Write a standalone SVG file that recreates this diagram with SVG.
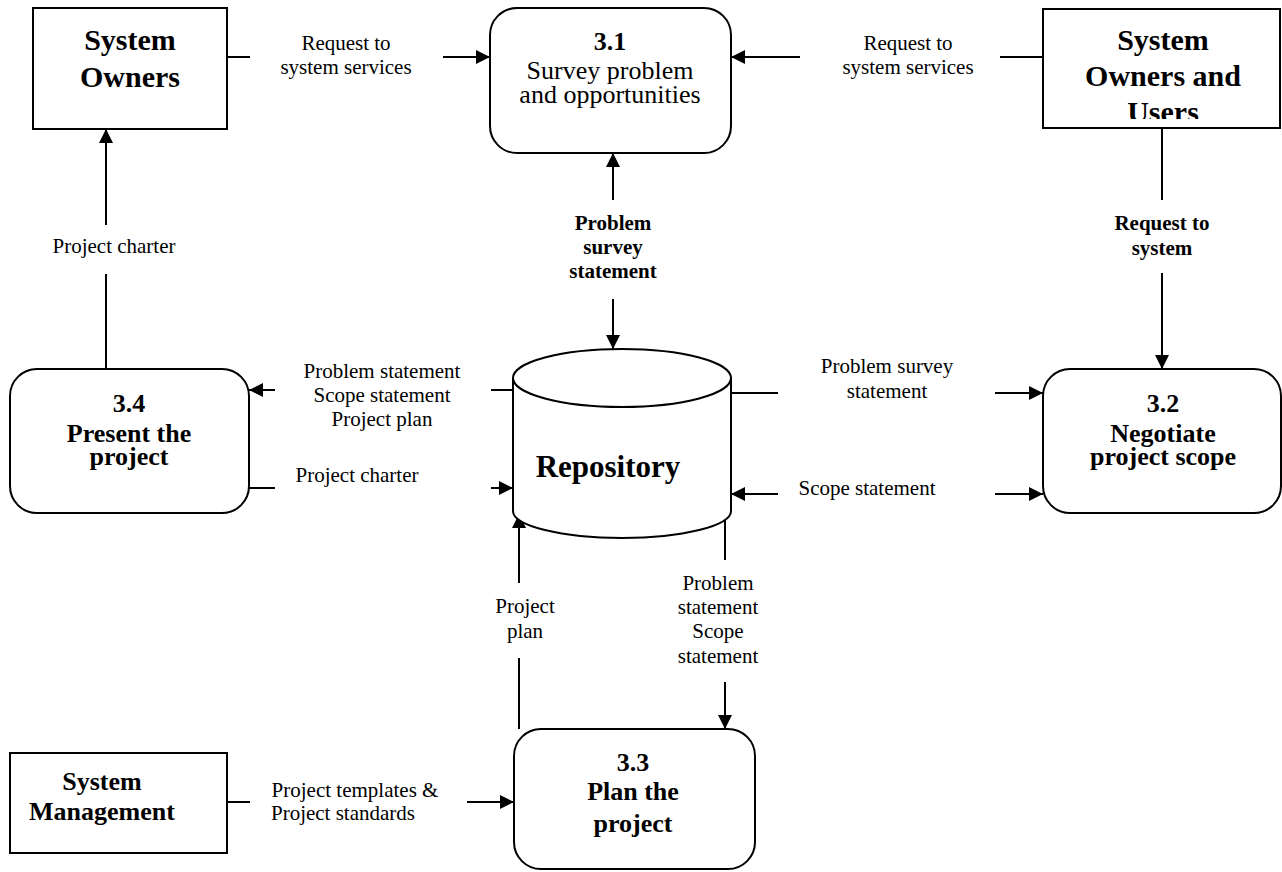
<svg xmlns="http://www.w3.org/2000/svg" width="1282" height="872" viewBox="0 0 1282 872">
  <style>
    .box { fill: #fff; stroke: #000; stroke-width: 2; }
    .line { fill: none; stroke: #000; stroke-width: 2; }
    .arrow { fill: none; stroke: #000; stroke-width: 2; marker-end: url(#head); }
    text { font-family: "Liberation Serif", "Times New Roman", serif; fill: #000; text-anchor: middle; }
    .lbl { font-size: 21px; }
    .lblb { font-size: 21px; font-weight: bold; }
    .ent { font-size: 30px; font-weight: bold; }
    .proc { font-size: 26px; }
    .procb { font-size: 26px; font-weight: bold; }
    .store { font-size: 31px; font-weight: bold; }
  </style>
  <defs>
    <marker id="head" markerUnits="userSpaceOnUse" markerWidth="16" markerHeight="16" refX="14" refY="7" orient="auto">
      <path d="M0,0 L14,7 L0,14 z" fill="#000"/>
    </marker>
    <clipPath id="souClip">
      <rect x="1043" y="9" width="238" height="110"/>
    </clipPath>
  </defs>

  <rect width="1282" height="872" fill="#fff"/>

  <!-- data flows -->
  <g id="connectors">
    <!-- System Owners -> 3.1 -->
    <line class="line" x1="227" y1="57" x2="250" y2="57"/>
    <line class="arrow" x1="443" y1="57" x2="490" y2="57"/>
    <text class="lbl" x="346" y="50">Request to</text>
    <text class="lbl" x="346" y="74">system services</text>

    <!-- System Owners and Users -> 3.1 -->
    <line class="line" x1="1043" y1="57" x2="1000" y2="57"/>
    <line class="arrow" x1="800" y1="57" x2="731" y2="57"/>
    <text class="lbl" x="908" y="50">Request to</text>
    <text class="lbl" x="908" y="74">system services</text>

    <!-- 3.1 <-> Repository -->
    <line class="arrow" x1="613" y1="200" x2="613" y2="153"/>
    <line class="arrow" x1="613" y1="299" x2="613" y2="349"/>
    <text class="lblb" x="613" y="230">Problem</text>
    <text class="lblb" x="613" y="254">survey</text>
    <text class="lblb" x="613" y="278">statement</text>

    <!-- System Owners and Users -> 3.2 -->
    <line class="line" x1="1162" y1="128" x2="1162" y2="200"/>
    <line class="arrow" x1="1162" y1="273" x2="1162" y2="369"/>
    <text class="lblb" x="1162" y="230">Request to</text>
    <text class="lblb" x="1162" y="255">system</text>

    <!-- 3.4 -> System Owners -->
    <line class="line" x1="106" y1="369" x2="106" y2="274"/>
    <line class="arrow" x1="106" y1="225" x2="106" y2="129"/>
    <text class="lbl" x="114" y="253">Project charter</text>

    <!-- Repository -> 3.4 -->
    <line class="line" x1="513" y1="390" x2="491" y2="390"/>
    <line class="arrow" x1="275" y1="390" x2="249" y2="390"/>
    <text class="lbl" x="382" y="378">Problem statement</text>
    <text class="lbl" x="382" y="402">Scope statement</text>
    <text class="lbl" x="382" y="426">Project plan</text>

    <!-- 3.4 -> Repository -->
    <line class="line" x1="249" y1="488" x2="275" y2="488"/>
    <line class="arrow" x1="491" y1="488" x2="513" y2="488"/>
    <text class="lbl" x="357" y="482">Project charter</text>

    <!-- Repository -> 3.2 -->
    <line class="line" x1="731" y1="393" x2="778" y2="393"/>
    <line class="arrow" x1="995" y1="393" x2="1043" y2="393"/>
    <text class="lbl" x="887" y="373">Problem survey</text>
    <text class="lbl" x="887" y="398">statement</text>

    <!-- 3.2 -> Repository (scope statement) -->
    <line class="arrow" x1="778" y1="494" x2="731" y2="494"/>
    <line class="arrow" x1="995" y1="494" x2="1043" y2="494"/>
    <text class="lbl" x="867" y="495">Scope statement</text>

    <!-- 3.3 -> Repository -->
    <line class="line" x1="519" y1="729" x2="519" y2="658"/>
    <line class="arrow" x1="519" y1="583" x2="519" y2="514"/>
    <text class="lbl" x="525" y="613">Project</text>
    <text class="lbl" x="525" y="638">plan</text>

    <!-- Repository -> 3.3 -->
    <line class="line" x1="725" y1="513" x2="725" y2="560"/>
    <line class="arrow" x1="725" y1="682" x2="725" y2="729"/>
    <text class="lbl" x="718" y="590">Problem</text>
    <text class="lbl" x="718" y="614">statement</text>
    <text class="lbl" x="718" y="638">Scope</text>
    <text class="lbl" x="718" y="663">statement</text>

    <!-- System Management -> 3.3 -->
    <line class="line" x1="227" y1="802" x2="250" y2="802"/>
    <line class="arrow" x1="467" y1="802" x2="514" y2="802"/>
    <text class="lbl" x="355" y="797">Project templates &amp;</text>
    <text class="lbl" x="343" y="820">Project standards</text>
  </g>

  <!-- external entities -->
  <g id="system-owners">
    <rect class="box" x="33" y="8" width="194" height="121"/>
    <text class="ent" x="130" y="50">System</text>
    <text class="ent" x="130" y="87">Owners</text>
  </g>

  <g id="system-owners-users">
    <rect class="box" x="1043" y="9" width="237" height="119"/>
    <g clip-path="url(#souClip)">
      <text class="ent" x="1163" y="50">System</text>
      <text class="ent" x="1163" y="86">Owners and</text>
      <text class="ent" x="1163" y="122">Users</text>
    </g>
  </g>

  <g id="system-management">
    <rect class="box" x="10" y="753" width="217" height="100"/>
    <text class="procb" x="102" y="790">System</text>
    <text class="procb" x="102" y="820">Management</text>
  </g>

  <!-- processes -->
  <g id="p3-1">
    <rect class="box" x="490" y="8" width="241" height="145" rx="27" ry="27"/>
    <text class="procb" x="610" y="50">3.1</text>
    <text class="proc" x="610" y="79">Survey problem</text>
    <text class="proc" x="610" y="103">and opportunities</text>
  </g>

  <g id="p3-2">
    <rect class="box" x="1043" y="369" width="238" height="144" rx="27" ry="27"/>
    <text class="procb" x="1163" y="412">3.2</text>
    <text class="procb" x="1163" y="442">Negotiate</text>
    <text class="procb" x="1163" y="465">project scope</text>
  </g>

  <g id="p3-3">
    <rect class="box" x="514" y="729" width="241" height="140" rx="27" ry="27"/>
    <text class="procb" x="633" y="771">3.3</text>
    <text class="procb" x="633" y="800">Plan the</text>
    <text class="procb" x="633" y="832">project</text>
  </g>

  <g id="p3-4">
    <rect class="box" x="10" y="369" width="239" height="144" rx="27" ry="27"/>
    <text class="procb" x="129" y="412">3.4</text>
    <text class="procb" x="129" y="442">Present the</text>
    <text class="procb" x="129" y="465">project</text>
  </g>

  <!-- data store -->
  <g id="repository">
    <path class="box" d="M513,378 L513,511 A109,27 0 0 0 731,511 L731,378"/>
    <ellipse class="box" cx="622" cy="378" rx="109" ry="29"/>
    <text class="store" x="608" y="477">Repository</text>
  </g>
</svg>
